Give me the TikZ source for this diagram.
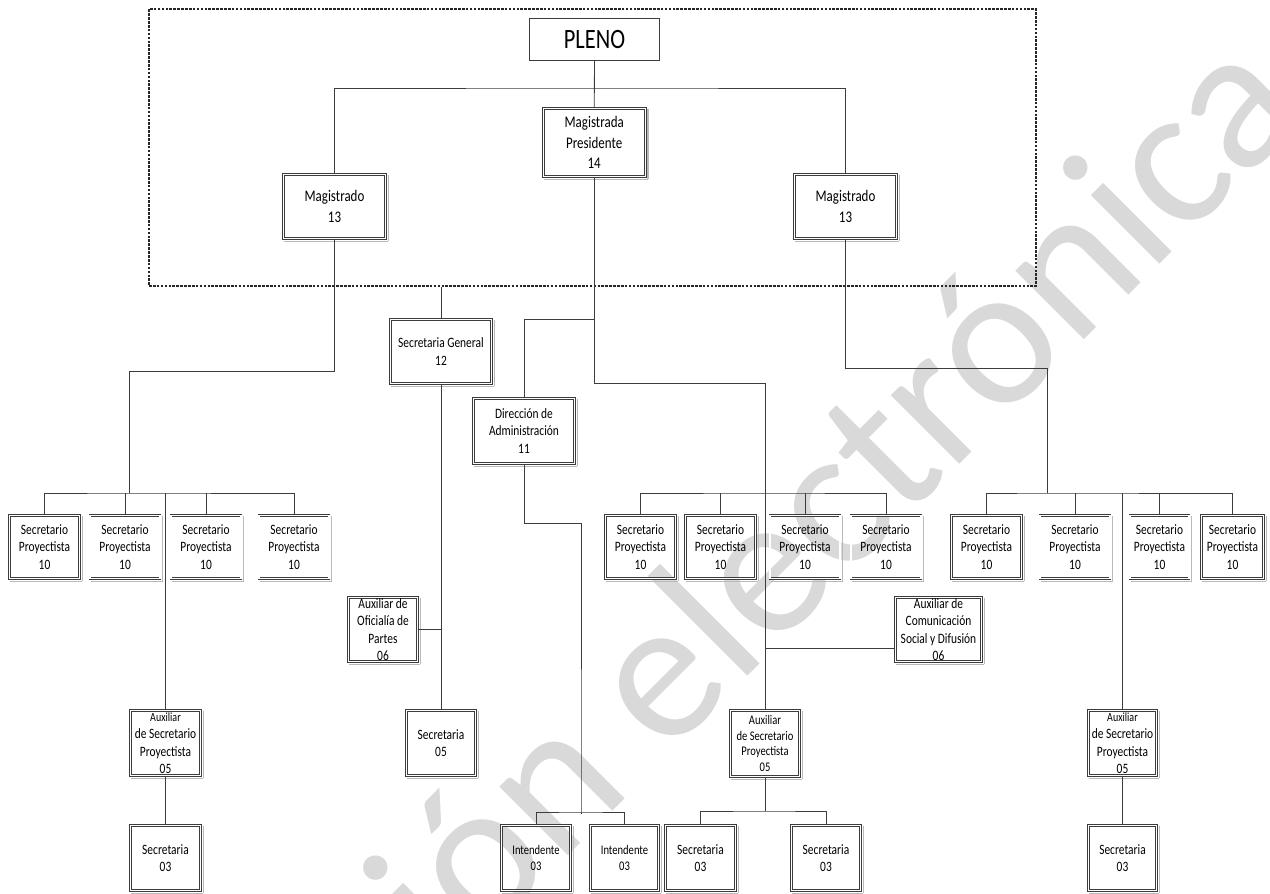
\documentclass[tikz,border=0pt]{standalone}
\usepackage{fontspec}
\setmainfont{Carlito}[FakeStretch=0.8]
\newfontfamily\marcafont{Carlito}
\usepackage{tikz}
\definecolor{linea}{RGB}{60,60,60}
\definecolor{marca}{RGB}{217,217,217}
\newcommand{\fsec}{\fontsize{14.3}{17.5}\selectfont}
\newcommand{\fmag}{\fontsize{16.2}{20.6}\selectfont}
\newcommand{\fint}{\fontsize{13.2}{15.5}\selectfont}
\newcommand{\faux}{\fontsize{12.5}{15}\selectfont}
\tikzstyle{caja} = [draw=linea, line width=0.8pt, align=center, inner sep=0pt, text=black, font=\fsec]
\tikzstyle{sombra} = [append after command={
  ([xshift=2.3pt,yshift=-1pt]\tikzlastnode.north east) edge[draw=gray!55, line width=1.2pt] ([xshift=2.3pt,yshift=-2.3pt]\tikzlastnode.south east)
  ([xshift=2.3pt,yshift=-2.3pt]\tikzlastnode.south east) edge[draw=gray!55, line width=1.2pt] ([xshift=1pt,yshift=-2.3pt]\tikzlastnode.south west)}]
\tikzstyle{cajad} = [caja, double=white, double distance=1.2pt, sombra]
\tikzstyle{sp} = [cajad, minimum width=70pt, minimum height=63pt]
\tikzstyle{chica} = [cajad, minimum width=69pt, minimum height=65pt]
\tikzstyle{conector} = [draw=linea, line width=0.8pt]
\tikzstyle{marco} = [draw=black!85, line width=1.7pt, dash pattern=on 2.6pt off 1.3pt]

\begin{document}
\begin{tikzpicture}[x=1pt,y=-1pt]
\useasboundingbox (0,0) rectangle (1270,894);
\begin{scope}
\clip (0,0) rectangle (1270,894);
\node[rotate=45, anchor=base west, inner sep=0pt, text=marca, font=\marcafont\fontsize{203}{203}\selectfont] (marcaagua) at (200,1224) {Versión electrónica};
\end{scope}

\node[marco, minimum width=887pt, minimum height=277pt, inner sep=0pt] (pleno-marco) at (592.5,147.5) {};
\node[caja, minimum width=130pt, minimum height=42pt, font=\fontsize{28}{30}\selectfont] (pleno) at (594.5,39.5) {PLENO};
\node[cajad, minimum width=102pt, minimum height=68pt, font=\fmag] (mpres) at (594.2,142.5) {Magistrada\\Presidente\\14};
\node[cajad, minimum width=102pt, minimum height=64pt, font=\fmag] (magl) at (334.5,206.5) {Magistrado\\13};
\node[cajad, minimum width=102pt, minimum height=64pt, font=\fmag] (magr) at (845.5,206.5) {Magistrado\\13};

\node[cajad, minimum width=101pt, minimum height=64pt] (sgen) at (441,351.5) {Secretaria General\\12};
\node[cajad, minimum width=101pt, minimum height=65pt] (dadm) at (524,431) {Dirección de\\Administración\\11};

\node[sp] (sl1) at (44.5,547) {Secretario\\Proyectista\\10};
\node[sp] (sl2) at (125,547) {Secretario\\Proyectista\\10};
\node[sp] (sl3) at (206,547) {Secretario\\Proyectista\\10};
\node[sp] (sl4) at (294,547) {Secretario\\Proyectista\\10};
\node[sp] (sm1) at (640.5,547) {Secretario\\Proyectista\\10};
\node[sp] (sm2) at (720.5,547) {Secretario\\Proyectista\\10};
\node[sp] (sm3) at (805,547) {Secretario\\Proyectista\\10};
\node[sp] (sm4) at (886,547) {Secretario\\Proyectista\\10};
\node[sp] (sr1) at (986.5,547) {Secretario\\Proyectista\\10};
\node[sp] (sr2) at (1075,547) {Secretario\\Proyectista\\10};
\node[sp, minimum width=59pt] (sr3) at (1159.5,547) {Secretario\\Proyectista\\10};
\node[sp, minimum width=62pt] (sr4) at (1232.5,547) {Secretario\\Proyectista\\10};

\node[cajad, minimum width=69pt, minimum height=64pt] (auxof) at (383,629.5) {Auxiliar de\\Oficialía de\\Partes\\06};
\node[cajad, minimum width=86pt, minimum height=64pt] (auxcom) at (938.5,629.5) {Auxiliar de\\Comunicación\\Social y Difusión\\06};

\node[chica, minimum width=70pt] (auxl) at (165.5,743) {{\faux Auxiliar}\\de Secretario\\Proyectista\\05};
\node[chica] (sec05) at (441,743) {Secretaria\\05};
\node[chica, minimum height=66pt, font=\fint] (auxm) at (765,743.5) {Auxiliar\\de Secretario\\Proyectista\\05};
\node[chica, minimum width=68pt] (auxr) at (1122.5,743) {{\faux Auxiliar}\\de Secretario\\Proyectista\\05};

\node[chica, minimum width=70pt] (sec03l) at (165.5,858) {Secretaria\\03};
\node[chica, font=\fint] (int1) at (536,858) {Intendente\\03};
\node[chica, minimum width=68pt, font=\fint] (int2) at (624.5,858) {Intendente\\03};
\node[chica, minimum width=70pt] (s3a) at (700.5,858) {Secretaria\\03};
\node[chica] (s3b) at (826,858) {Secretaria\\03};
\node[chica, minimum width=68pt] (sec03r) at (1122.5,858) {Secretaria\\03};

\coordinate (bp) at (594.5,88);
\coordinate (jl) at (129,493);
\coordinate (jm) at (765,493);
\coordinate (jr) at (1047,493);
\coordinate (jc) at (765,648);
\coordinate (jb) at (765,811);
\coordinate (ji) at (581,812);

\draw[conector] (pleno) -- (mpres);
\draw[conector] (magl.north) |- (bp) -| (magr.north);

\draw[conector] (magl.south) -- ++(0,132) -| (jl);
\draw[conector] (sl1.north) |- (jl) -| (sl4.north);
\draw[conector] (sl2.north) -- (sl2.north |- jl);
\draw[conector] (sl3.north) -- (sl3.north |- jl);
\draw[conector] (auxl.north) -- (auxl.north |- jl);
\draw[conector] (auxl) -- (sec03l);

\draw[conector] (sgen.north) -- (sgen.north |- pleno-marco.south);
\draw[conector] (sgen) -- (sec05);
\draw[conector] (auxof.east) -- (auxof.east -| sgen.south);

\draw[conector] (mpres.south) -- ++(0,206) -| (auxm.north);
\draw[conector] (dadm.north) -- ++(0,-79) -| (mpres.south);
\draw[conector] (sm1.north) |- (jm) -| (sm4.north);
\draw[conector] (sm2.north) -- (sm2.north |- jm);
\draw[conector] (sm3.north) -- (sm3.north |- jm);
\draw[conector] (auxcom.west |- jc) -- (jc);
\draw[conector] (auxm) -- (jb);
\draw[conector] (s3a.north) |- (jb) -| (s3b.north);

\draw[conector] (dadm.south) -- ++(0,59) -| (ji) -- ++(0,2);
\draw[conector] (int1.north) |- (ji) -| (int2.north);

\draw[conector] (magr.south) -- ++(0,129) -| (jr);
\draw[conector] (sr1.north) |- (jr) -| (sr4.north);
\draw[conector] (sr2.north) -- (sr2.north |- jr);
\draw[conector] (sr3.north) -- (sr3.north |- jr);
\draw[conector] (auxr.north) -- (auxr.north |- jr);
\draw[conector] (auxr) -- (sec03r);
\end{tikzpicture}
\end{document}
